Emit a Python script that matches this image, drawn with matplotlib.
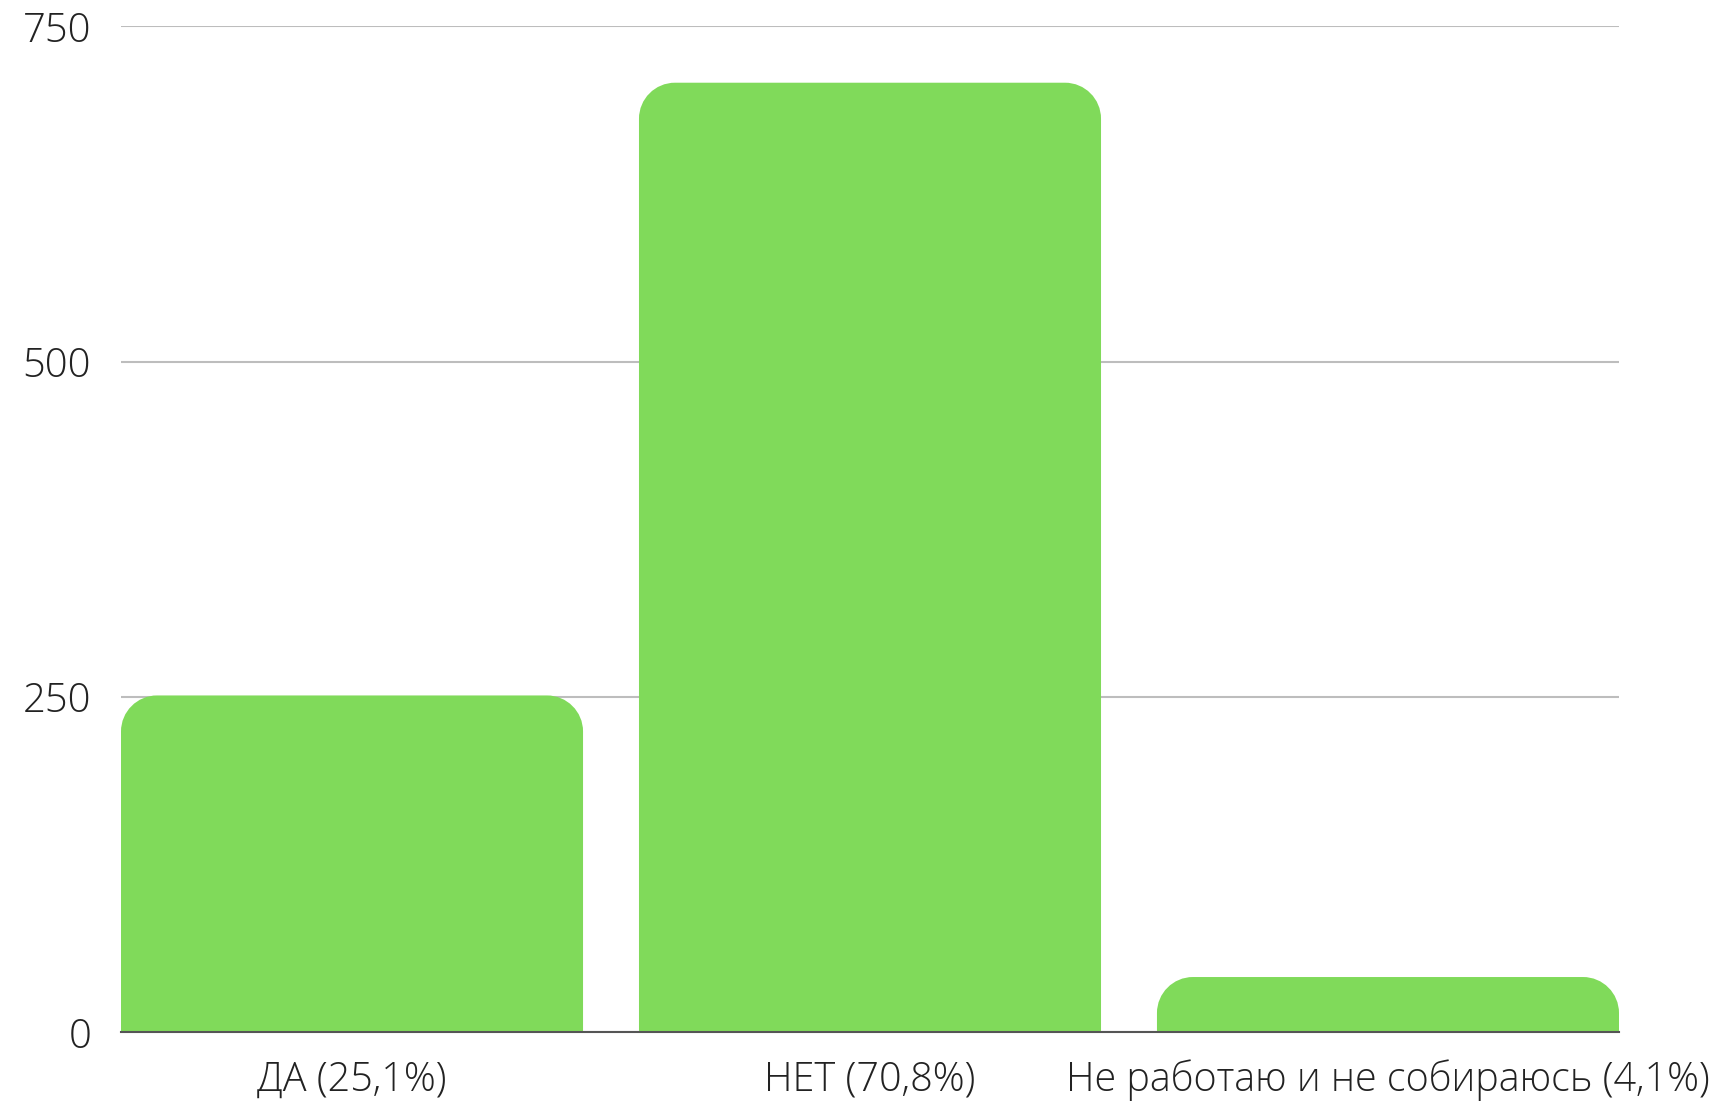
import matplotlib
matplotlib.use("Agg")
import matplotlib.pyplot as plt
from matplotlib.path import Path
from matplotlib.patches import PathPatch

categories = ["ДА (25,1%)", "НЕТ (70,8%)", "Не работаю и не собираюсь (4,1%)"]
values = [251, 708, 41]
yticks = [0, 250, 500, 750]

plt.rcParams['font.family'] = ['Open Sans', 'DejaVu Sans']

W, H = 1725, 1103
fig = plt.figure(figsize=(W / 100, H / 100), dpi=100)
left, right, top, bottom = 121, 1619, 26.4, 1032
ax = fig.add_axes([left / W, (H - bottom) / H, (right - left) / W, (bottom - top) / H])

width = 0.892
x = list(range(len(categories)))
ax.set_xlim(-width / 2, len(categories) - 1 + width / 2)
ax.set_ylim(0, 750)

bars = ax.bar(x, values, width=width, color="#80DA5A", zorder=2)

# rounded top corners (radius in pixels)
r_px = 36
px_per_x = (right - left) / (ax.get_xlim()[1] - ax.get_xlim()[0])
px_per_y = (bottom - top) / 750
rx = r_px / px_per_x
ry = r_px / px_per_y
k = 0.5523
for b in bars:
    x0, y0 = b.get_x(), b.get_y()
    w, h = b.get_width(), b.get_height()
    ryy = min(ry, h)
    x1, y1 = x0 + w, y0 + h
    verts = [
        (x0, y0), (x1, y0), (x1, y1 - ryy),
        (x1, y1 - ryy + k * ryy), (x1 - rx + k * rx, y1), (x1 - rx, y1),
        (x0 + rx, y1),
        (x0 + rx - k * rx, y1), (x0, y1 - ryy + k * ryy), (x0, y1 - ryy),
        (x0, y0),
    ]
    codes = [Path.MOVETO, Path.LINETO, Path.LINETO,
             Path.CURVE4, Path.CURVE4, Path.CURVE4,
             Path.LINETO,
             Path.CURVE4, Path.CURVE4, Path.CURVE4,
             Path.CLOSEPOLY]
    patch = PathPatch(Path(verts, codes), facecolor=b.get_facecolor(), edgecolor="none", zorder=2)
    b.set_visible(False)
    ax.add_patch(patch)

for s in ["top", "right", "left"]:
    ax.spines[s].set_visible(False)
ax.spines["bottom"].set_color("#555555")
ax.spines["bottom"].set_linewidth(1.5)
ax.spines["bottom"].set_zorder(3)

ax.set_yticks(yticks)
ax.set_yticklabels([str(v) for v in yticks])
ax.yaxis.grid(True, color="#BDBDBD", linewidth=1.5, zorder=0)
ax.set_axisbelow(True)
ax.set_xticks(x)
ax.set_xticklabels(categories)
ax.tick_params(axis="y", length=0, pad=21.5, labelsize=28.8, labelcolor="#222222")
ax.tick_params(axis="x", length=0, pad=20, labelsize=28.5, labelcolor="#222222")
for lab in ax.get_xticklabels() + ax.get_yticklabels():
    lab.set_fontweight("light")

fig.savefig("out.png", dpi=100)
